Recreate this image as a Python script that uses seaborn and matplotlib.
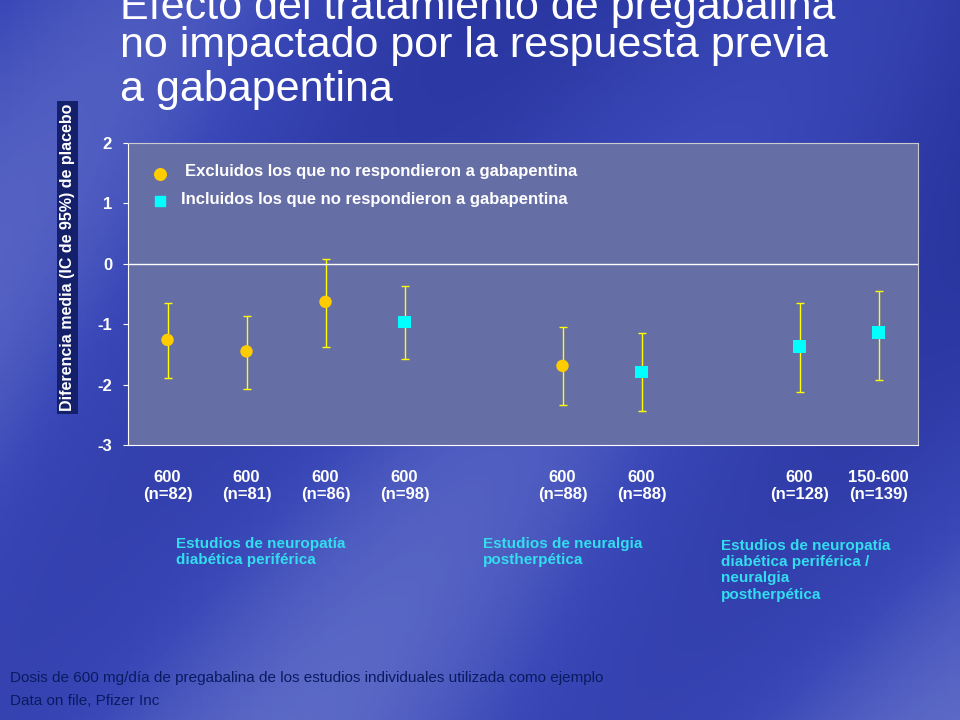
import numpy as np
import pandas as pd
import matplotlib
matplotlib.use("Agg")
import matplotlib.pyplot as plt
import seaborn as sns

plt.rcParams["font.family"] = "Liberation Sans"
plt.rcParams["axes.unicode_minus"] = False

positions = [0, 1, 2, 3, 5, 6, 8, 9]
means = [-1.26, -1.45, -0.63, -0.96, -1.69, -1.79, -1.37, -1.14]
upper = [-0.65, -0.86, 0.08, -0.36, -1.04, -1.14, -0.65, -0.45]
lower = [-1.89, -2.08, -1.38, -1.57, -2.33, -2.43, -2.12, -1.92]
group = ["Excluidos", "Excluidos", "Excluidos", "Incluidos", "Excluidos", "Incluidos", "Incluidos", "Incluidos"]
tick_labels = ["600\n(n=82)", "600\n(n=81)", "600\n(n=86)", "600\n(n=98)",
               "600\n(n=88)", "600\n(n=88)", "600\n(n=128)", "150-600\n(n=139)"]

df = pd.DataFrame({"x": positions, "y": means, "lo": lower, "hi": upper, "g": group})

fig = plt.figure(figsize=(9.6, 7.2), dpi=100)
bg = fig.add_axes([0, 0, 1, 1])
yy, xx = np.mgrid[0:1:200j, 0:1:200j]
grad = 0.5 + 0.25 * yy + 0.12 * np.sin(xx * 9 + yy * 5) + 0.2 * (1 - xx) * (1 - yy)
bg.imshow(grad, cmap=sns.blend_palette(["#1f2a90", "#3a48b8", "#8a96d8"], as_cmap=True),
          aspect="auto", extent=[0, 1, 0, 1], vmin=0.3, vmax=1.1)
bg.axis("off")

ax = fig.add_axes([128/960, 1-445/720, 790/960, 302/720])
ax.set_facecolor("#666ea6")
ax.errorbar(df.x, df.y, yerr=[df.y - df.lo, df.hi - df.y], fmt="none",
            ecolor="#ffff00", elinewidth=1, capsize=3)
sns.scatterplot(data=df, x="x", y="y", hue="g", style="g",
                palette={"Excluidos": "#ffcc00", "Incluidos": "#00ffff"},
                markers={"Excluidos": "o", "Incluidos": "s"}, s=80, edgecolor="none",
                legend=False, ax=ax, zorder=3)
ax.axhline(0, color="white", lw=1)
ax.set_xlim(-0.5, 9.5)
ax.set_ylim(-3, 2)
ax.set_yticks([-3, -2, -1, 0, 1, 2])
ax.set_xticks(positions)
ax.set_xticklabels(tick_labels, color="white", fontsize=12, fontweight="bold")
ax.tick_params(axis="y", colors="white", labelsize=12, direction="out", pad=8)
for t in ax.get_yticklabels():
    t.set_fontweight("bold")
ax.tick_params(axis="x", length=0, pad=18)
ax.set_xlabel("")
ax.set_ylabel("Diferencia media (IC de 95%) de placebo", color="white",
              fontsize=11.5, fontweight="bold", labelpad=36,
              bbox=dict(facecolor="#14206a", edgecolor="none", pad=2))
ax.yaxis.set_label_coords(-0.067, 0.62)
for s in ["top", "right"]:
    ax.spines[s].set_color("#cccccc")
for s in ["left", "bottom"]:
    ax.spines[s].set_color("white")

ax.scatter([-0.5 + 0.4], [1.48], marker="o", s=70, color="#ffcc00")
ax.scatter([-0.5 + 0.4], [1.04], marker="s", s=55, color="#00ffff")
ax.text(-0.5 + 0.72, 1.52, "Excluidos los que no respondieron a gabapentina",
        color="white", fontsize=12, fontweight="bold", va="center")
ax.text(-0.5 + 0.67, 1.06, "Incluidos los que no respondieron a gabapentina",
        color="white", fontsize=12, fontweight="bold", va="center")

fig.text(120/960, 1-8/720, "Efecto del tratamiento de pregabalina", color="white",
         fontsize=31, va="center")
fig.text(120/960, 1-46/720, "no impactado por la respuesta previa", color="white",
         fontsize=31, va="center")
fig.text(120/960, 1-90/720, "a gabapentina", color="white", fontsize=31, va="center")

c = "#33ddee"
fig.text(176/960, 1-537/720, "Estudios de neuropatía\ndiabética periférica", color=c,
         fontsize=11, fontweight="bold", va="top", linespacing=1.2)
fig.text(483/960, 1-537/720, "Estudios de neuralgia\npostherpética", color=c,
         fontsize=11, fontweight="bold", va="top", linespacing=1.2)
fig.text(721/960, 1-539/720, "Estudios de neuropatía\ndiabética periférica /\nneuralgia\npostherpética",
         color=c, fontsize=11, fontweight="bold", va="top", linespacing=1.2)
fig.text(10/960, 1-678/720, "Dosis de 600 mg/día de pregabalina de los estudios individuales utilizada como ejemplo",
         color="#0a1a60", fontsize=11, va="center")
fig.text(10/960, 1-701/720, "Data on file, Pfizer Inc", color="#0a1a60", fontsize=11, va="center")

fig.savefig("out.png", dpi=100)
